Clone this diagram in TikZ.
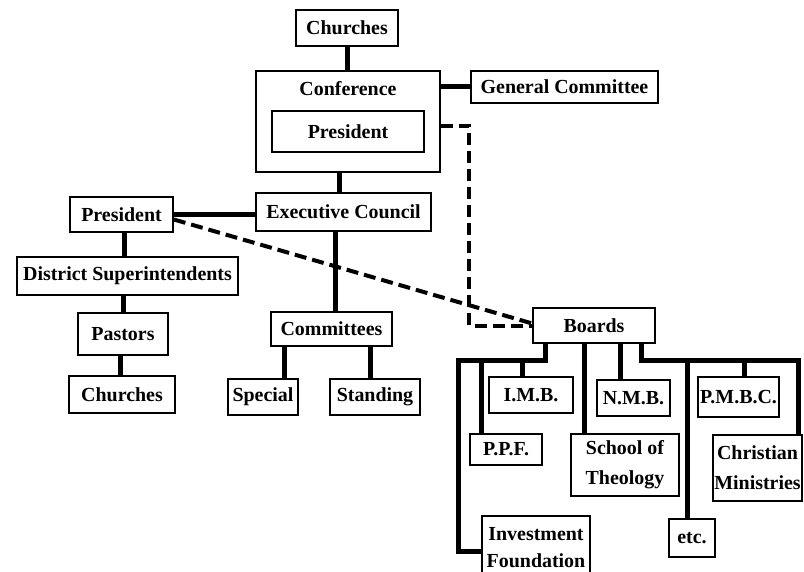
\documentclass[tikz,border=0pt]{standalone}
\usepackage{fontspec}
\setmainfont{Liberation Serif}
\usepackage{tikz}
\usetikzlibrary{positioning,calc}

\begin{document}
\begin{tikzpicture}[
  x=1bp, y=-1bp,
  font=\fontsize{20}{30}\selectfont\bfseries,
  block/.style={draw, line width=2bp, inner sep=0pt, align=center},
  link/.style={line width=5bp},
  dlink/.style={line width=4bp, dash pattern=on 12bp off 6bp},
]
\clip (0,0) rectangle (804,572);
% Conference side
\node[block, minimum width=102, minimum height=36] (churchtop) at (347,28) {Churches};
\node[block, minimum width=184, minimum height=101] (conf) at (348,121.5) {};
\node (conftitle) at (348,89) {Conference};
\node[block, minimum width=152, minimum height=41] (confpres) at (348,131.5) {President};
\node[block, minimum width=187, minimum height=32] (gencom) at (564.5,87) {General Committee};
\node[block, minimum width=175, minimum height=38] (exec) at (343.5,212) {Executive Council};

% Left column
\node[block, minimum width=103, minimum height=35] (pres) at (121.5,214.5) {President};
\node[block, minimum width=221, minimum height=38] (dist) at (127.5,276) {District Superintendents};
\node[block, minimum width=90, minimum height=42] (pastors) at (123,334) {Pastors};
\node[block, minimum width=106, minimum height=37] (churchbot) at (122,394.5) {Churches};

% Committees
\node[block, minimum width=121, minimum height=34] (comm) at (331.5,329) {Committees};
\node[block, minimum width=70, minimum height=36] (special) at (263,397) {Special};
\node[block, minimum width=90, minimum height=36] (standing) at (375,397) {Standing};

% Boards
\node[block, minimum width=122, minimum height=35] (boards) at (594,325.5) {Boards};
\node[block, minimum width=84, minimum height=36] (imb) at (531,395) {I.M.B.};
\node[block, minimum width=72, minimum height=31] (ppf) at (506,449.5) {P.P.F.};
\node[block, minimum width=108, minimum height=64, font=\fontsize{20}{27}\selectfont\bfseries] (invest) at (536,548) {Investment\\Foundation};
\node[block, minimum width=108, minimum height=62] (school) at (625,465) {School of\\Theology};
\node[block, minimum width=73, minimum height=36] (nmb) at (633.5,398) {N.M.B.};
\node[block, minimum width=46, minimum height=38] (etc) at (692,538) {etc.};
\node[block, minimum width=81, minimum height=40] (pmbc) at (738.5,397) {P.M.B.C.};
\node[block, minimum width=89, minimum height=66] (christ) at (757.5,468) {Christian\\Ministries};
\coordinate (busleft) at (458,360);
\coordinate (busright) at (798,360);

% Links
\draw[link] (churchtop.south) -- (churchtop.south |- conf.north);
\draw[link] (gencom.west -| conf.east) -- (gencom.west);
\draw[link] ([xshift=-4]exec.north) -- ([xshift=-4]exec.north |- conf.south);
\draw[link] (pres.east) -- (pres.east -| exec.west);
\draw[link] ([xshift=3]pres.south) -- ([xshift=3]pres.south |- dist.north);
\draw[link] (pastors.north) -- (pastors.north |- dist.south);
\draw[link] ([xshift=-2]churchbot.north) -- ([xshift=-2]churchbot.north |- pastors.south);
\draw[link] ([xshift=4.5]comm.north) -- ([xshift=4.5]comm.north |- exec.south);
\draw[link] ([xshift=22]special.north) -- ([xshift=22]special.north |- comm.south);
\draw[link] ([xshift=-5]standing.north) -- ([xshift=-5]standing.north |- comm.south);

% Board links
\draw[link] ([xshift=-49]boards.south) |- (busleft) |- ([yshift=-4]invest.west);
\draw[link] ([xshift=-25]ppf.north) -- ([xshift=-25]ppf.north |- busleft);
\draw[link] ([xshift=-9]imb.north) -- ([xshift=-9]imb.north |- busleft);
\draw[link] ([xshift=-41]school.north) -- ([xshift=-41]school.north |- boards.south);
\draw[link] ([xshift=-13.5]nmb.north) -- ([xshift=-13.5]nmb.north |- boards.south);
\draw[link] ([xshift=48]boards.south) |- (busright) -- (busright |- christ.north);
\draw[link] ([xshift=-5]etc.north) -- ([xshift=-5]etc.north |- busright);
\draw[link] ([xshift=6.5]pmbc.north) -- ([xshift=6.5]pmbc.north |- busright);

% Dashed links
\draw[dlink] ([yshift=6]conf.east |- confpres.east) -| ([xshift=-63]boards.west) -- (boards.west);
\draw[dlink] ([yshift=-5]pres.east) -- ([yshift=2]boards.west);
\end{tikzpicture}
\end{document}
